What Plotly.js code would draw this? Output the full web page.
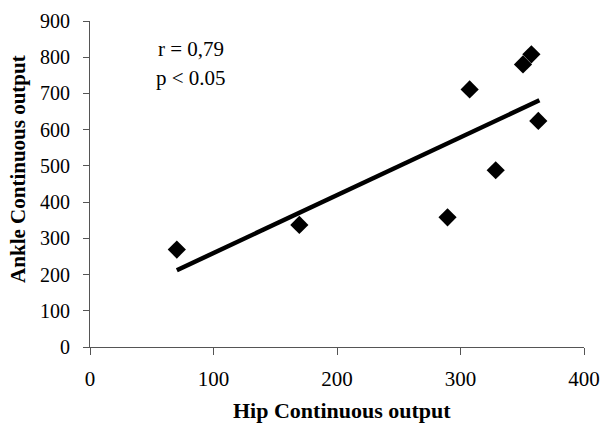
<!DOCTYPE html>
<html>
<head>
<meta charset="utf-8">
<script src="https://cdn.plot.ly/plotly-3.0.1.min.js"></script>
<style>html,body{margin:0;padding:0;background:#fff;}#chart{width:601px;height:423px;}</style>
</head>
<body>
<div id="chart"></div>
<script>
const hipOutput = [70.3, 169.5, 289.5, 307.4, 328.5, 350.6, 357.4, 363.0];
const ankleOutput = [269, 337, 358, 711, 488, 780, 808, 624];
const trendX = [70.3, 363.9];
const trendY = [212, 681];
const xTicks = [0, 100, 200, 300, 400];
const yTicks = [0, 100, 200, 300, 400, 500, 600, 700, 800, 900];

const serif = "Liberation Serif, Times New Roman, serif";

const traces = [
  {x: trendX, y: trendY, mode: 'lines', type: 'scatter',
   line: {color: '#000', width: 4.5}, hoverinfo: 'skip', showlegend: false},
  {x: hipOutput, y: ankleOutput, mode: 'markers', type: 'scatter',
   marker: {symbol: 'diamond', size: 14, color: '#000'}, showlegend: false}
];

const layout = {
  width: 601, height: 423,
  margin: {l: 90, r: 17, t: 21, b: 76},
  paper_bgcolor: '#fff', plot_bgcolor: '#fff',
  showlegend: false,
  font: {family: serif, size: 20, color: '#000'},
  xaxis: {
    range: [0, 400], tickvals: xTicks, ticktext: xTicks.map(String),
    showgrid: false, zeroline: false, showline: true, linecolor: '#555', linewidth: 1,
    ticks: 'outside', ticklen: 7, tickcolor: '#555', tickwidth: 1,
    ticklabelstandoff: 6,
    tickfont: {family: serif, size: 21, color: '#000'}
  },
  yaxis: {
    range: [0, 900], tickvals: yTicks, ticktext: yTicks.map(String),
    showgrid: false, zeroline: false, showline: true, linecolor: '#555', linewidth: 1,
    ticks: 'outside', ticklen: 6, tickcolor: '#555', tickwidth: 1,
    ticklabelstandoff: 9,
    tickfont: {family: serif, size: 20, color: '#000'}
  },
  annotations: [
    {x: 0.51, y: -0.196, xref: 'paper', yref: 'paper', text: '<b>Hip Continuous output</b>', showarrow: false,
     font: {family: serif, size: 22, color: '#000'}, xanchor: 'center', yanchor: 'middle'},
    {x: -0.146, y: 0.546, xref: 'paper', yref: 'paper', text: '<b>Ankle Continuous output</b>', showarrow: false,
     textangle: -90, font: {family: serif, size: 21, color: '#000'}, xanchor: 'center', yanchor: 'middle'},
    {x: 0.205, y: 0.914, xref: 'paper', yref: 'paper', text: 'r = 0,79', showarrow: false,
     font: {family: serif, size: 21, color: '#000'}, xanchor: 'center', yanchor: 'middle'},
    {x: 0.205, y: 0.824, xref: 'paper', yref: 'paper', text: 'p &lt; 0.05', showarrow: false,
     font: {family: serif, size: 21, color: '#000'}, xanchor: 'center', yanchor: 'middle'}
  ]
};

Plotly.newPlot('chart', traces, layout, {displayModeBar: false, staticPlot: true});
</script>
</body>
</html>
